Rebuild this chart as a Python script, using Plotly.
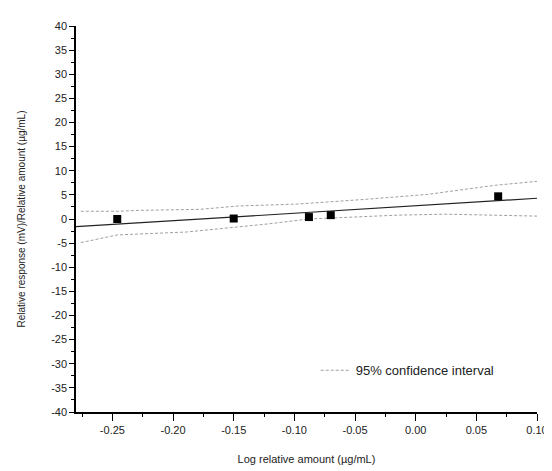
import plotly.graph_objects as go

x_pts = [-0.246, -0.150, -0.088, -0.070, 0.068]
y_pts = [0.0, 0.1, 0.4, 0.8, 4.7]

# Linear fit line end points
fit_x = [-0.28, 0.10]
fit_y = [-1.6, 4.3]

# 95% confidence band (upper and lower)
band_up_x = [-0.276, -0.246, -0.227, -0.178, -0.146, -0.097, -0.040, 0.010, 0.042, 0.066, 0.100]
band_up_y = [1.6, 1.6, 1.8, 2.0, 2.7, 3.1, 4.1, 5.1, 6.2, 7.0, 7.8]
band_lo_x = [-0.276, -0.246, -0.189, -0.150, -0.121, -0.088, -0.015, 0.025, 0.100]
band_lo_y = [-4.9, -3.3, -2.7, -1.8, -1.0, 0.0, 0.8, 1.0, 0.6]

# Tick labels (plain hyphen minus, as in the original)
x_ticks = [-0.25, -0.20, -0.15, -0.10, -0.05, 0.00, 0.05, 0.10]
x_labels = ["-0.25", "-0.20", "-0.15", "-0.10", "-0.05", "0.00", "0.05", "0.10"]
y_ticks = list(range(40, -45, -5))
y_labels = [str(v) for v in y_ticks]

FONT = "Liberation Sans, Arial, sans-serif"
band_line = dict(color="#a0a0a0", width=1, dash="3px,2px")

fig = go.Figure()

fig.add_trace(go.Scatter(
    x=band_up_x, y=band_up_y, mode="lines", line=band_line,
    name="95% confidence interval", showlegend=True
))
fig.add_trace(go.Scatter(
    x=band_lo_x, y=band_lo_y, mode="lines", line=band_line,
    showlegend=False
))
fig.add_trace(go.Scatter(
    x=fit_x, y=fit_y, mode="lines",
    line=dict(color="#222222", width=1.2), showlegend=False
))
fig.add_trace(go.Scatter(
    x=x_pts, y=y_pts, mode="markers",
    marker=dict(symbol="square", size=8, color="black"),
    showlegend=False
))

fig.update_layout(
    width=552, height=471,
    paper_bgcolor="white", plot_bgcolor="white",
    margin=dict(l=65, r=17, t=14, b=67),
    font=dict(family=FONT, size=11, color="#222222"),
    legend=dict(
        x=0.52, y=0.108, xanchor="left", yanchor="middle",
        bgcolor="rgba(0,0,0,0)", font=dict(size=13),
        itemwidth=30
    ),
    xaxis=dict(
        range=[-0.28, 0.10], tickvals=x_ticks, ticktext=x_labels,
        showline=True, linecolor="black", linewidth=1.5,
        ticks="outside", ticklen=7, tickwidth=1.2, tickcolor="black",
        minor=dict(ticks="outside", ticklen=3, dtick=0.025, tick0=0, tickcolor="black"),
        showgrid=False, zeroline=False,
        title=dict(text="Log relative amount (µg/mL)", standoff=20, font=dict(size=11)),
        tickfont=dict(size=11)
    ),
    yaxis=dict(
        range=[-40, 40], tickvals=y_ticks, ticktext=y_labels,
        showline=True, linecolor="black", linewidth=1.5,
        ticks="outside", ticklen=5, tickwidth=1.2, tickcolor="black",
        minor=dict(ticks="outside", ticklen=3, dtick=2.5, tickcolor="black"),
        showgrid=False, zeroline=False,
        title=dict(text="Relative response (mV)/Relative amount (µg/mL)", standoff=24, font=dict(size=10)),
        tickfont=dict(size=11)
    ),
)

fig.write_html("out.html")
